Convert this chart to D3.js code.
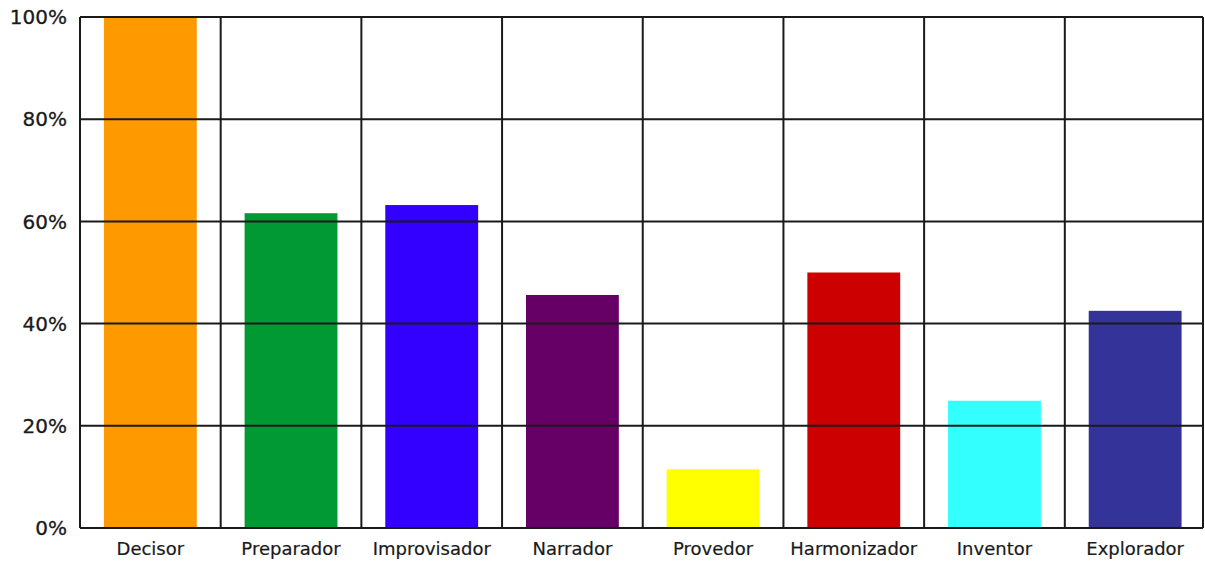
<!DOCTYPE html>
<html><head><meta charset="utf-8">
<script src="https://cdn.jsdelivr.net/npm/d3@7"></script>
<style>body{margin:0;background:#fff}svg{display:block}</style>
</head><body>
<svg id="c" width="1205" height="566"></svg>
<script>
const categories = ["Decisor","Preparador","Improvisador","Narrador","Provedor","Harmonizador","Inventor","Explorador"];
const values = [100, 61.6, 63.2, 45.6, 11.5, 50, 24.9, 42.5];
const colors = ["#FF9900","#009933","#3300FF","#660066","#FFFF00","#CC0000","#33FFFF","#333399"];
const yTicks = [0,20,40,60,80,100];

const svg = d3.select("#c");
const L = 80, R = 1205.5, RB = 1203, T = 17, B = 528;
const x = d3.scaleBand().domain(categories).range([L, R]).paddingInner(0).paddingOuter(0);
const y = d3.scaleLinear().domain([0,100]).range([B, T]);
const bw = x.bandwidth() * 0.66;

// bars
svg.append("g").selectAll("rect").data(categories).join("rect")
  .attr("x", (d) => x(d) + (x.bandwidth() - bw) / 2)
  .attr("width", bw)
  .attr("y", (d, i) => y(values[i]))
  .attr("height", (d, i) => B - y(values[i]))
  .attr("fill", (d, i) => colors[i]);

// grid
const g = svg.append("g").attr("stroke", "#1a1a1a").attr("stroke-width", 2);
g.selectAll("line.h").data(yTicks).join("line").attr("class","h")
  .attr("x1", L).attr("x2", RB).attr("y1", d => y(d)).attr("y2", d => y(d));
const vx = categories.map(c => x(c)).concat([RB]);
g.selectAll("line.v").data(vx).join("line").attr("class","v")
  .attr("x1", d => d).attr("x2", d => d).attr("y1", T).attr("y2", B);

// y labels
svg.append("g").selectAll("text").data(yTicks).join("text")
  .attr("x", 67).attr("y", d => y(d)).attr("dy", "0.36em")
  .attr("text-anchor", "end")
  .attr("font-family", "DejaVu Sans, Verdana, sans-serif")
  .attr("font-size", 20).attr("fill", "#1a1a1a")
  .attr("stroke", "#1a1a1a").attr("stroke-width", 0.3)
  .text(d => d + "%");

// x labels
svg.append("g").selectAll("text").data(categories).join("text")
  .attr("x", d => x(d) + x.bandwidth() / 2).attr("y", 555)
  .attr("text-anchor", "middle")
  .attr("font-family", "DejaVu Sans, Verdana, sans-serif")
  .attr("font-size", 18).attr("fill", "#1a1a1a")
  .attr("stroke", "#1a1a1a").attr("stroke-width", 0.2)
  .text(d => d);
</script>
</body></html>
